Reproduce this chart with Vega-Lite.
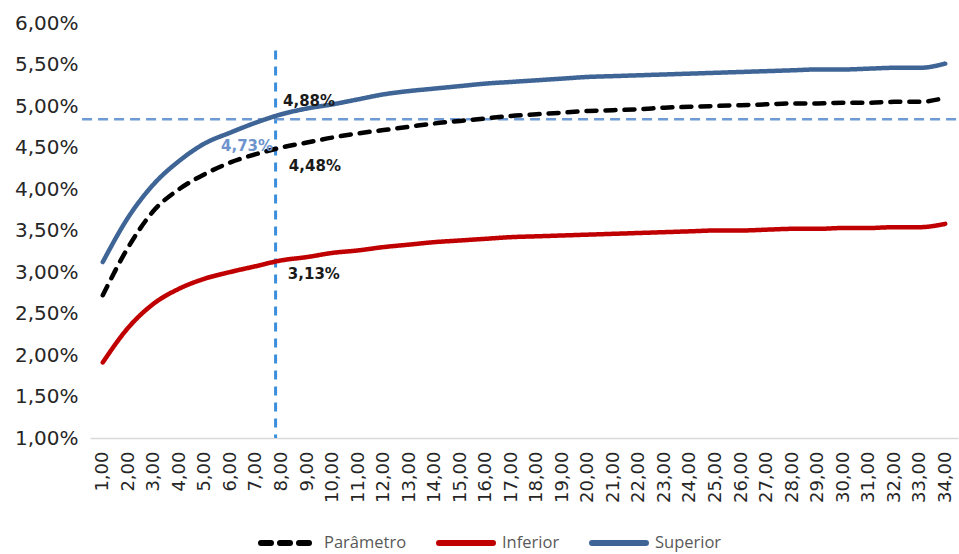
{
  "$schema": "https://vega.github.io/schema/vega-lite/v6.json",
  "width": 868,
  "height": 415,
  "autosize": {"type": "none"},
  "padding": {"left": 90, "top": 23, "right": 1, "bottom": 116},
  "background": "white",
  "config": {
    "locale": {"number": {"decimal": ",", "thousands": ".", "grouping": [3], "currency": ["R$", ""]}},
    "view": {"stroke": null},
    "font": "DejaVu Sans"
  },
  "datasets": {
    "series": [
      {"x": 1, "Parâmetro": 0.0272, "Inferior": 0.0191, "Superior": 0.0312},
      {"x": 2, "Parâmetro": 0.0330, "Inferior": 0.0233, "Superior": 0.0366},
      {"x": 3, "Parâmetro": 0.0374, "Inferior": 0.0262, "Superior": 0.0406},
      {"x": 4, "Parâmetro": 0.0400, "Inferior": 0.0280, "Superior": 0.0434},
      {"x": 5, "Parâmetro": 0.0418, "Inferior": 0.0292, "Superior": 0.0455},
      {"x": 6, "Parâmetro": 0.0432, "Inferior": 0.0300, "Superior": 0.0468},
      {"x": 7, "Parâmetro": 0.0442, "Inferior": 0.0307, "Superior": 0.0480},
      {"x": 8, "Parâmetro": 0.0450, "Inferior": 0.0314, "Superior": 0.0490},
      {"x": 9, "Parâmetro": 0.0456, "Inferior": 0.0318, "Superior": 0.0497},
      {"x": 10, "Parâmetro": 0.0462, "Inferior": 0.0323, "Superior": 0.0502},
      {"x": 11, "Parâmetro": 0.0467, "Inferior": 0.0326, "Superior": 0.0508},
      {"x": 12, "Parâmetro": 0.0471, "Inferior": 0.0330, "Superior": 0.0514},
      {"x": 13, "Parâmetro": 0.0475, "Inferior": 0.0333, "Superior": 0.0518},
      {"x": 14, "Parâmetro": 0.0479, "Inferior": 0.0336, "Superior": 0.0521},
      {"x": 15, "Parâmetro": 0.0482, "Inferior": 0.0338, "Superior": 0.0524},
      {"x": 16, "Parâmetro": 0.0485, "Inferior": 0.0340, "Superior": 0.0527},
      {"x": 17, "Parâmetro": 0.0488, "Inferior": 0.0342, "Superior": 0.0529},
      {"x": 18, "Parâmetro": 0.0490, "Inferior": 0.0343, "Superior": 0.0531},
      {"x": 19, "Parâmetro": 0.0492, "Inferior": 0.0344, "Superior": 0.0533},
      {"x": 20, "Parâmetro": 0.0494, "Inferior": 0.0345, "Superior": 0.0535},
      {"x": 21, "Parâmetro": 0.0495, "Inferior": 0.0346, "Superior": 0.0536},
      {"x": 22, "Parâmetro": 0.0496, "Inferior": 0.0347, "Superior": 0.0537},
      {"x": 23, "Parâmetro": 0.0498, "Inferior": 0.0348, "Superior": 0.0538},
      {"x": 24, "Parâmetro": 0.0499, "Inferior": 0.0349, "Superior": 0.0539},
      {"x": 25, "Parâmetro": 0.0500, "Inferior": 0.0350, "Superior": 0.0540},
      {"x": 26, "Parâmetro": 0.0501, "Inferior": 0.0350, "Superior": 0.0541},
      {"x": 27, "Parâmetro": 0.0502, "Inferior": 0.0351, "Superior": 0.0542},
      {"x": 28, "Parâmetro": 0.0503, "Inferior": 0.0352, "Superior": 0.0543},
      {"x": 29, "Parâmetro": 0.0503, "Inferior": 0.0352, "Superior": 0.0544},
      {"x": 30, "Parâmetro": 0.0504, "Inferior": 0.0353, "Superior": 0.0544},
      {"x": 31, "Parâmetro": 0.0504, "Inferior": 0.0353, "Superior": 0.0545},
      {"x": 32, "Parâmetro": 0.0505, "Inferior": 0.0354, "Superior": 0.0546},
      {"x": 33, "Parâmetro": 0.0505, "Inferior": 0.0354, "Superior": 0.0546},
      {"x": 34, "Parâmetro": 0.0510, "Inferior": 0.0358, "Superior": 0.0551}
    ],
    "vref": [{"x": 7.77, "y": 0.0567, "y2": 0.01}],
    "href": [{"x": 0.19, "x2": 34.5, "y": 0.0484}],
    "labels": [
      {"x": 8.06, "y": 0.0506, "label": "4,88%"},
      {"x": 8.29, "y": 0.04275, "label": "4,48%"},
      {"x": 8.25, "y": 0.0297, "label": "3,13%"}
    ],
    "labelsBlue": [
      {"x": 7.67, "y": 0.0452, "label": "4,73%"}
    ]
  },
  "encoding": {
    "x": {
      "field": "x",
      "type": "quantitative",
      "scale": {"domain": [0.5, 34.5], "nice": false, "zero": false},
      "axis": {
        "values": [1,2,3,4,5,6,7,8,9,10,11,12,13,14,15,16,17,18,19,20,21,22,23,24,25,26,27,28,29,30,31,32,33,34],
        "format": ".2f",
        "labelAngle": -90,
        "labelFontSize": 18,
        "labelColor": "#262626",
        "labelPadding": 13,
        "ticks": false,
        "grid": false,
        "domainColor": "#D9D9D9",
        "domainWidth": 1.5,
        "title": null,
        "labelOverlap": false,
        "labelFlush": false
      }
    },
    "y": {
      "field": "y",
      "type": "quantitative",
      "scale": {"domain": [0.01, 0.06], "nice": false, "zero": false},
      "axis": {
        "values": [0.01, 0.015, 0.02, 0.025, 0.03, 0.035, 0.04, 0.045, 0.05, 0.055, 0.06],
        "format": ".2%",
        "labelFontSize": 20,
        "labelColor": "#262626",
        "labelPadding": 12,
        "ticks": false,
        "grid": false,
        "domain": false,
        "title": null,
        "labelOverlap": false,
        "labelFlush": false
      }
    }
  },
  "layer": [
    {
      "data": {"name": "vref"},
      "mark": {"type": "rule", "color": "#3A8FDB", "strokeWidth": 3, "strokeDash": [9, 7]},
      "encoding": {"y2": {"field": "y2"}}
    },
    {
      "data": {"name": "href"},
      "mark": {"type": "rule", "color": "#6E9BD6", "strokeWidth": 2.5, "strokeDash": [10, 6], "clip": false},
      "encoding": {"x2": {"field": "x2"}}
    },
    {
      "data": {"name": "series"},
      "transform": [{"fold": ["Parâmetro", "Inferior", "Superior"], "as": ["serie", "y"]}],
      "mark": {"type": "line", "strokeWidth": 4.5, "strokeCap": "round", "interpolate": "monotone"},
      "encoding": {
        "color": {
          "field": "serie",
          "type": "nominal",
          "scale": {"domain": ["Parâmetro", "Inferior", "Superior"], "range": ["#000000", "#C00000", "#3F6597"]},
          "legend": {
            "title": null,
            "orient": "none",
            "legendX": 168,
            "legendY": 490,
            "direction": "horizontal",
            "symbolType": "stroke",
            "symbolSize": 2916,
            "symbolStrokeWidth": 6,
            "labelFont": "Open Sans",
            "labelFontSize": 16.5,
            "labelColor": "#595959",
            "labelOffset": 6,
            "columnPadding": 20,
            "encode": {"symbols": {"update": {"strokeCap": {"value": "round"}}}}
          }
        },
        "strokeDash": {
          "field": "serie",
          "type": "nominal",
          "scale": {"domain": ["Parâmetro", "Inferior", "Superior"], "range": [[10, 9], [1, 0], [1, 0]]},
          "legend": {
            "title": null,
            "orient": "none",
            "legendX": 168,
            "legendY": 490,
            "direction": "horizontal",
            "symbolType": "stroke",
            "symbolSize": 2916,
            "symbolStrokeWidth": 6,
            "labelFont": "Open Sans",
            "labelFontSize": 16.5,
            "labelColor": "#595959",
            "labelOffset": 6,
            "columnPadding": 20,
            "encode": {"symbols": {"update": {"strokeCap": {"value": "round"}}}}
          }
        }
      }
    },
    {
      "data": {"name": "labels"},
      "mark": {"type": "text", "align": "left", "baseline": "middle", "fontSize": 15, "fontWeight": "bold", "color": "#1A1A1A", "font": "DejaVu Sans"},
      "encoding": {"text": {"field": "label"}}
    },
    {
      "data": {"name": "labelsBlue"},
      "mark": {"type": "text", "align": "right", "baseline": "middle", "fontSize": 15, "fontWeight": "bold", "color": "#6E93CD", "font": "DejaVu Sans"},
      "encoding": {"text": {"field": "label"}}
    }
  ]
}
